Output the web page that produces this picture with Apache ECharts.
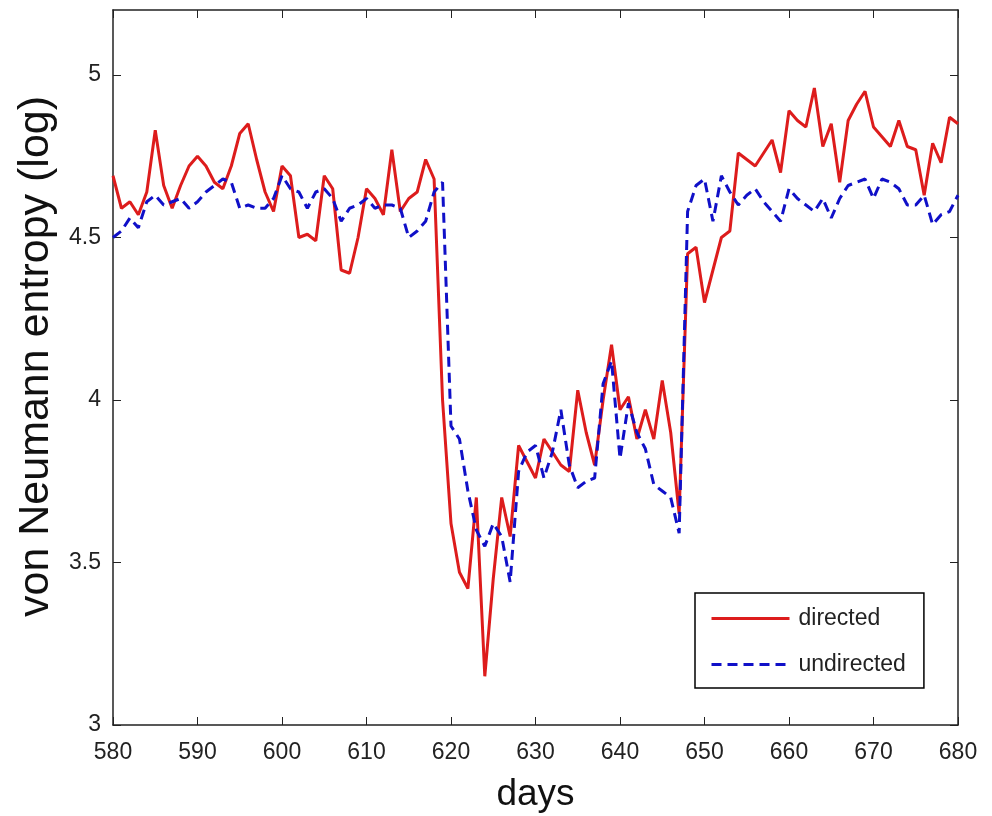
<!DOCTYPE html>
<html>
<head>
<meta charset="utf-8">
<script src="https://cdn.jsdelivr.net/npm/echarts@6/dist/echarts.min.js"></script>
<style>
  html, body { margin: 0; padding: 0; background: #fff; }
  #main { width: 992px; height: 816px; }
</style>
</head>
<body>
<div id="main"></div>
<script>
// days 580..680, one value per day
var days = [];
for (var d = 580; d <= 680; d++) days.push(d);

var directed = [
  4.69, 4.59, 4.61, 4.57, 4.64, 4.83, 4.66, 4.59, 4.66, 4.72,
  4.75, 4.72, 4.67, 4.65, 4.72, 4.82, 4.85, 4.74, 4.64, 4.58,
  4.72, 4.69, 4.50, 4.51, 4.49, 4.69, 4.65, 4.40, 4.39, 4.50,
  4.65, 4.62, 4.57, 4.77, 4.58, 4.62, 4.64, 4.74, 4.68, 4.00,
  3.62, 3.47, 3.42, 3.70, 3.15, 3.45, 3.70, 3.58, 3.86, 3.81,
  3.76, 3.88, 3.84, 3.80, 3.78, 4.03, 3.90, 3.80, 4.00, 4.17,
  3.97, 4.01, 3.88, 3.97, 3.88, 4.06, 3.90, 3.65, 4.45, 4.47,
  4.30, 4.40, 4.50, 4.52, 4.76, 4.74, 4.72, 4.76, 4.80, 4.70,
  4.89, 4.86, 4.84, 4.96, 4.78, 4.85, 4.67, 4.86, 4.91, 4.95,
  4.84, 4.81, 4.78, 4.86, 4.78, 4.77, 4.63, 4.79, 4.73, 4.87,
  4.85
];

var undirected = [
  4.50, 4.52, 4.56, 4.53, 4.61, 4.63, 4.60, 4.61, 4.62, 4.59,
  4.61, 4.64, 4.66, 4.68, 4.67, 4.59, 4.60, 4.59, 4.59, 4.62,
  4.69, 4.65, 4.64, 4.59, 4.64, 4.65, 4.62, 4.55, 4.59, 4.60,
  4.62, 4.59, 4.60, 4.60, 4.59, 4.50, 4.52, 4.55, 4.64, 4.67,
  3.92, 3.88, 3.72, 3.60, 3.55, 3.62, 3.58, 3.44, 3.78, 3.84,
  3.86, 3.76, 3.84, 3.97, 3.80, 3.73, 3.75, 3.76, 4.05, 4.12,
  3.82, 3.99, 3.90, 3.85, 3.74, 3.72, 3.70, 3.59, 4.58, 4.66,
  4.68, 4.55, 4.69, 4.64, 4.60, 4.63, 4.65, 4.61, 4.58, 4.55,
  4.65, 4.62, 4.60, 4.58, 4.62, 4.56, 4.62, 4.66, 4.67, 4.68,
  4.62, 4.68, 4.67, 4.65, 4.60, 4.60, 4.63, 4.54, 4.57, 4.58,
  4.63
];

var yTicks = [3, 3.5, 4, 4.5, 5];

function pairs(vals) {
  return days.map(function (d, i) { return [d, vals[i]]; });
}

var tickFont = { color: '#222', fontSize: 23, fontFamily: 'Liberation Sans Narrow, Liberation Sans, sans-serif' };

var myChart = echarts.init(document.getElementById('main'));
var option = {
    backgroundColor: '#fff',
    animation: false,
    grid: { left: 113, right: 34, top: 10, bottom: 91, outerBoundsMode: 'none' },
    legend: {
        orient: 'vertical',
        left: 695,
        top: 593,
        itemWidth: 78,
        itemHeight: 20,
        itemGap: 23,
        padding: [14, 18, 12, 15],
        borderColor: '#000',
        borderWidth: 1.5,
        backgroundColor: '#fff',
        itemStyle: { opacity: 0 },
        lineStyle: { width: 3 },
        textStyle: { color: '#222', fontSize: 23, fontFamily: 'Liberation Sans Narrow, Liberation Sans, sans-serif', padding: [0, 0, 0, 4] },
        data: ['directed', 'undirected']
    },
    xAxis: [{
        type: 'value',
        min: 580, max: 680, interval: 10,
        name: 'days',
        nameLocation: 'middle',
        nameGap: 51,
        nameTextStyle: { fontSize: 37, color: '#111', fontFamily: 'Liberation Sans, sans-serif' },
        axisLine: { lineStyle: { color: '#222', width: 1.5 } },
        axisTick: { inside: true, length: 8, lineStyle: { color: '#222' } },
        axisLabel: Object.assign({ margin: 16 }, tickFont),
        splitLine: { show: false }
    }, {
        type: 'value', position: 'top',
        min: 580, max: 680, interval: 10,
        axisLine: { lineStyle: { color: '#222', width: 1.5 } },
        axisTick: { inside: true, length: 8, lineStyle: { color: '#222' } },
        axisLabel: { show: false },
        splitLine: { show: false }
    }],
    yAxis: [{
        type: 'value',
        min: 3, max: 5.2,
        name: 'von Neumann entropy (log)',
        nameLocation: 'middle',
        nameGap: 55,
        nameTextStyle: { fontSize: 43, color: '#111', fontFamily: 'Liberation Sans, sans-serif', padding: [0, 0, 0, 22] },
        axisLine: { show: true, lineStyle: { color: '#222', width: 1.5 } },
        axisTick: { inside: true, length: 8, customValues: yTicks, lineStyle: { color: '#222' } },
        axisLabel: Object.assign({ customValues: yTicks, margin: 12 }, tickFont),
        splitLine: { show: false }
    }, {
        type: 'value', position: 'right',
        min: 3, max: 5.2,
        axisLine: { show: true, lineStyle: { color: '#222', width: 1.5 } },
        axisTick: { inside: true, length: 8, customValues: yTicks, lineStyle: { color: '#222' } },
        axisLabel: { show: false },
        splitLine: { show: false }
    }],
    series: [{
        name: 'directed',
        type: 'line',
        data: pairs(directed),
        showSymbol: false,
        symbol: 'none',
        lineStyle: { color: '#dd1c1c', width: 3 },
        itemStyle: { color: '#dd1c1c' }
    }, {
        name: 'undirected',
        type: 'line',
        data: pairs(undirected),
        showSymbol: false,
        symbol: 'none',
        lineStyle: { color: '#1010c8', width: 3, type: [10, 6] },
        itemStyle: { color: '#1010c8' }
    }]
};
myChart.setOption(option);
</script>
</body>
</html>
